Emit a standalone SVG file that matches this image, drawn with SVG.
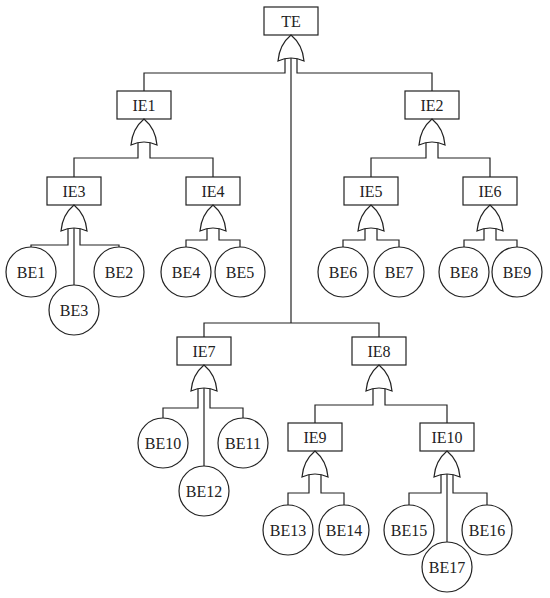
<svg xmlns="http://www.w3.org/2000/svg" xmlns:xlink="http://www.w3.org/1999/xlink" width="550" height="598" viewBox="0 0 550 598">
<style>
.box{fill:#fff;stroke:#222;stroke-width:1.2}
.gate{fill:#fff;stroke:#222;stroke-width:1.2;stroke-linejoin:miter}
.be{fill:#fff;stroke:#222;stroke-width:1.2}
.wire{fill:none;stroke:#222;stroke-width:1.2}
text{font-family:"Liberation Serif","Times New Roman",serif;font-size:16px;fill:#222;text-anchor:middle}
</style>
<defs>
<path id="or" class="gate" d="M0,0 C6,5 12,14 13,26 Q0,20 -13,26 C-12,14 -6,5 0,0 Z"/>
</defs>
<rect width="550" height="598" fill="#fff"/>
<g id="connectors">
<path class="wire" d="M144,91 V73 H285 V58"/>
<path class="wire" d="M432,91 V73 H297 V58"/>
<path class="wire" d="M291,58 V323"/>
<path class="wire" d="M204,337 V323 H379 V337"/>
<path class="wire" d="M74,177 V158 H138 V142"/>
<path class="wire" d="M213,177 V158 H150 V142"/>
<path class="wire" d="M371,177 V158 H426 V142"/>
<path class="wire" d="M490,177 V158 H438 V142"/>
<path class="wire" d="M31,247 V245 H68 V228"/>
<path class="wire" d="M119,247 V245 H80 V228"/>
<path class="wire" d="M74,285 V228"/>
<path class="wire" d="M186,247 V240 H207 V228"/>
<path class="wire" d="M240,247 V240 H219 V228"/>
<path class="wire" d="M343,247 V240 H365 V228"/>
<path class="wire" d="M399,247 V240 H377 V228"/>
<path class="wire" d="M464,247 V240 H484 V228"/>
<path class="wire" d="M517,247 V240 H496 V228"/>
<path class="wire" d="M163,418 V408 H198 V388"/>
<path class="wire" d="M243,418 V408 H210 V388"/>
<path class="wire" d="M204,466 V388"/>
<path class="wire" d="M315,423 V405 H373 V388"/>
<path class="wire" d="M447,423 V405 H385 V388"/>
<path class="wire" d="M288,505 V493 H309 V474"/>
<path class="wire" d="M344,505 V493 H321 V474"/>
<path class="wire" d="M409,505 V493 H441 V474"/>
<path class="wire" d="M487,505 V493 H453 V474"/>
<path class="wire" d="M447,542 V474"/>
</g>
<g id="TE"><rect class="box" x="264" y="7" width="54" height="28"/><text x="291" y="26.5">TE</text><use xlink:href="#or" x="291" y="35"/></g>
<g id="IE1"><rect class="box" x="117" y="91" width="54" height="28"/><text x="144" y="110.5">IE1</text><use xlink:href="#or" x="144" y="119"/></g>
<g id="IE2"><rect class="box" x="405" y="91" width="54" height="28"/><text x="432" y="110.5">IE2</text><use xlink:href="#or" x="432" y="119"/></g>
<g id="IE3"><rect class="box" x="47" y="177" width="54" height="28"/><text x="74" y="196.5">IE3</text><use xlink:href="#or" x="74" y="205"/></g>
<g id="IE4"><rect class="box" x="186" y="177" width="54" height="28"/><text x="213" y="196.5">IE4</text><use xlink:href="#or" x="213" y="205"/></g>
<g id="IE5"><rect class="box" x="344" y="177" width="54" height="28"/><text x="371" y="196.5">IE5</text><use xlink:href="#or" x="371" y="205"/></g>
<g id="IE6"><rect class="box" x="463" y="177" width="54" height="28"/><text x="490" y="196.5">IE6</text><use xlink:href="#or" x="490" y="205"/></g>
<g id="IE7"><rect class="box" x="177" y="337" width="54" height="28"/><text x="204" y="356.5">IE7</text><use xlink:href="#or" x="204" y="365"/></g>
<g id="IE8"><rect class="box" x="352" y="337" width="54" height="28"/><text x="379" y="356.5">IE8</text><use xlink:href="#or" x="379" y="365"/></g>
<g id="IE9"><rect class="box" x="288" y="423" width="54" height="28"/><text x="315" y="442.5">IE9</text><use xlink:href="#or" x="315" y="451"/></g>
<g id="IE10"><rect class="box" x="420" y="423" width="54" height="28"/><text x="447" y="442.5">IE10</text><use xlink:href="#or" x="447" y="451"/></g>
<g id="BE1"><circle class="be" cx="31" cy="272" r="25"/><text x="31" y="277.5">BE1</text></g>
<g id="BE2"><circle class="be" cx="119" cy="272" r="25"/><text x="119" y="277.5">BE2</text></g>
<g id="BE3"><circle class="be" cx="74" cy="310" r="25"/><text x="74" y="315.5">BE3</text></g>
<g id="BE4"><circle class="be" cx="186" cy="272" r="25"/><text x="186" y="277.5">BE4</text></g>
<g id="BE5"><circle class="be" cx="240" cy="272" r="25"/><text x="240" y="277.5">BE5</text></g>
<g id="BE6"><circle class="be" cx="343" cy="272" r="25"/><text x="343" y="277.5">BE6</text></g>
<g id="BE7"><circle class="be" cx="399" cy="272" r="25"/><text x="399" y="277.5">BE7</text></g>
<g id="BE8"><circle class="be" cx="464" cy="272" r="25"/><text x="464" y="277.5">BE8</text></g>
<g id="BE9"><circle class="be" cx="517" cy="272" r="25"/><text x="517" y="277.5">BE9</text></g>
<g id="BE10"><circle class="be" cx="163" cy="443" r="25"/><text x="163" y="448.5">BE10</text></g>
<g id="BE11"><circle class="be" cx="243" cy="443" r="25"/><text x="243" y="448.5">BE11</text></g>
<g id="BE12"><circle class="be" cx="204" cy="491" r="25"/><text x="204" y="496.5">BE12</text></g>
<g id="BE13"><circle class="be" cx="288" cy="530" r="25"/><text x="288" y="535.5">BE13</text></g>
<g id="BE14"><circle class="be" cx="344" cy="530" r="25"/><text x="344" y="535.5">BE14</text></g>
<g id="BE15"><circle class="be" cx="409" cy="530" r="25"/><text x="409" y="535.5">BE15</text></g>
<g id="BE16"><circle class="be" cx="487" cy="530" r="25"/><text x="487" y="535.5">BE16</text></g>
<g id="BE17"><circle class="be" cx="447" cy="567" r="25"/><text x="447" y="572.5">BE17</text></g>
</svg>
